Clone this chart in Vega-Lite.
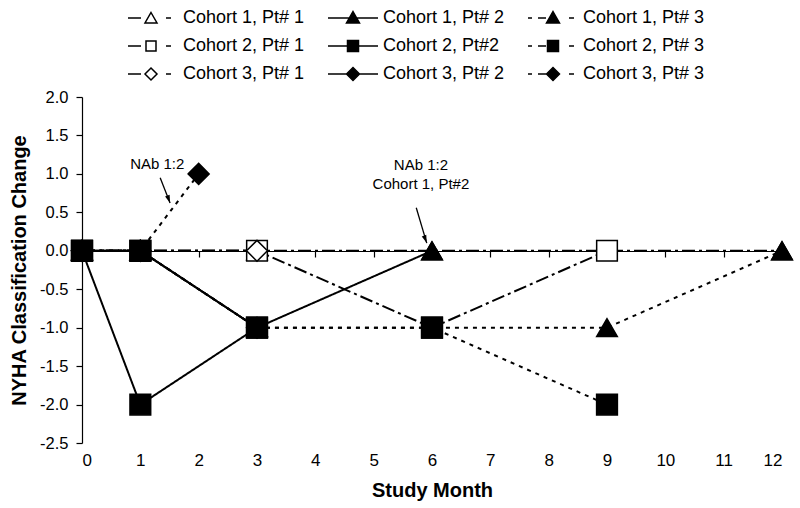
{
  "$schema": "https://vega.github.io/schema/vega-lite/v6.json",
  "width": 700,
  "height": 346,
  "autosize": {"type": "none"},
  "padding": {"left": 82, "top": 97, "right": 18, "bottom": 65},
  "background": "white",
  "config": {
    "view": {"stroke": null},
    "font": "Liberation Sans",
    "axis": {"grid": false, "domainColor": "black", "tickColor": "black", "labelColor": "black", "titleColor": "black", "labelFont": "Liberation Sans", "titleFont": "Liberation Sans", "domainWidth": 1.2, "tickWidth": 1.2}
  },
  "datasets": {
    "obs": [
      {"series": "Cohort 1, Pt# 1", "month": 0, "value": 0},
      {"series": "Cohort 1, Pt# 1", "month": 1, "value": 0},
      {"series": "Cohort 1, Pt# 1", "month": 3, "value": 0},
      {"series": "Cohort 1, Pt# 1", "month": 6, "value": 0},
      {"series": "Cohort 1, Pt# 1", "month": 12, "value": 0},
      {"series": "Cohort 1, Pt# 2", "month": 0, "value": 0},
      {"series": "Cohort 1, Pt# 2", "month": 1, "value": 0},
      {"series": "Cohort 1, Pt# 2", "month": 3, "value": -1},
      {"series": "Cohort 1, Pt# 2", "month": 6, "value": 0},
      {"series": "Cohort 1, Pt# 3", "month": 0, "value": 0},
      {"series": "Cohort 1, Pt# 3", "month": 1, "value": 0},
      {"series": "Cohort 1, Pt# 3", "month": 3, "value": -1},
      {"series": "Cohort 1, Pt# 3", "month": 9, "value": -1},
      {"series": "Cohort 1, Pt# 3", "month": 12, "value": 0},
      {"series": "Cohort 2, Pt# 1", "month": 0, "value": 0},
      {"series": "Cohort 2, Pt# 1", "month": 1, "value": 0},
      {"series": "Cohort 2, Pt# 1", "month": 3, "value": 0},
      {"series": "Cohort 2, Pt# 1", "month": 6, "value": -1},
      {"series": "Cohort 2, Pt# 1", "month": 9, "value": 0},
      {"series": "Cohort 2, Pt#2", "month": 0, "value": 0},
      {"series": "Cohort 2, Pt#2", "month": 1, "value": -2},
      {"series": "Cohort 2, Pt#2", "month": 3, "value": -1},
      {"series": "Cohort 2, Pt# 3", "month": 0, "value": 0},
      {"series": "Cohort 2, Pt# 3", "month": 1, "value": 0},
      {"series": "Cohort 2, Pt# 3", "month": 3, "value": -1},
      {"series": "Cohort 2, Pt# 3", "month": 6, "value": -1},
      {"series": "Cohort 2, Pt# 3", "month": 9, "value": -2},
      {"series": "Cohort 3, Pt# 1", "month": 0, "value": 0},
      {"series": "Cohort 3, Pt# 1", "month": 1, "value": 0},
      {"series": "Cohort 3, Pt# 1", "month": 3, "value": 0},
      {"series": "Cohort 3, Pt# 2", "month": 0, "value": 0},
      {"series": "Cohort 3, Pt# 2", "month": 1, "value": 0},
      {"series": "Cohort 3, Pt# 2", "month": 3, "value": -1},
      {"series": "Cohort 3, Pt# 3", "month": 0, "value": 0},
      {"series": "Cohort 3, Pt# 3", "month": 1, "value": 0},
      {"series": "Cohort 3, Pt# 3", "month": 2, "value": 1}
    ],
    "notes": [
      {"month": 1.29, "value": 1.13, "text": "NAb 1:2"},
      {"month": 5.81, "value": 1.12, "text": "NAb 1:2"},
      {"month": 5.81, "value": 0.87, "text": "Cohort 1, Pt#2"}
    ],
    "arrows": [
      {"month": 1.34, "value": 0.95, "month2": 1.51, "value2": 0.62},
      {"month": 5.73, "value": 0.56, "month2": 5.91, "value2": 0.1}
    ]
  },
  "resolve": {
    "scale": {"shape": "independent", "fill": "independent"},
    "axis": {"x": "independent", "y": "independent"},
    "legend": {"shape": "independent", "fill": "independent"}
  },
  "layer": [
    {
      "data": {"name": "obs"},
      "mark": {"type": "line", "color": "black", "strokeWidth": 2},
      "encoding": {
        "x": {
          "field": "month", "type": "quantitative",
          "scale": {"domain": [0, 12], "nice": false, "zero": false},
          "axis": {
            "values": [0,1,2,3,4,5,6,7,8,9,10,11,12], "domain": false, "ticks": false,
            "labelFontSize": 17, "labelPadding": 9, "title": "Study Month", "titleFontSize": 20, "titleFontWeight": "bold", "titlePadding": 12, "orient": "bottom"
          }
        },
        "y": {
          "field": "value", "type": "quantitative",
          "scale": {"domain": [-2.5, 2], "nice": false, "zero": false},
          "axis": {"values": [-2.5,-2,-1.5,-1,-0.5,0,0.5,1,1.5,2], "labelExpr": "replace(format(datum.value, '.1f'), '\u2212', '-')", "labelFontSize": 16.5, "tickSize": 6, "labelPadding": 8, "title": "NYHA Classification Change", "titleFontSize": 20, "titleFontWeight": "bold", "titlePadding": 10}
        },
        "strokeDash": {
          "field": "series", "type": "nominal", "legend": null,
          "scale": {
            "domain": ["Cohort 1, Pt# 1", "Cohort 1, Pt# 2", "Cohort 1, Pt# 3", "Cohort 2, Pt# 1", "Cohort 2, Pt#2", "Cohort 2, Pt# 3", "Cohort 3, Pt# 1", "Cohort 3, Pt# 2", "Cohort 3, Pt# 3"],
            "range": [[13,4,3,4], [1,0], [4,5], [13,4,3,4], [1,0], [4,5], [13,4,3,4], [1,0], [4,5]]
          }
        }
      }
    },
    {
      "data": {"name": "obs"},
      "mark": {"type": "point", "filled": true, "stroke": "black", "strokeWidth": 1.5, "opacity": 1, "fillOpacity": 1},
      "encoding": {
        "x": {"field": "month", "type": "quantitative", "axis": {"values": [0,1,2,3,4,5,6,7,8,9,10,11,12], "labels": false, "title": null, "domain": true, "ticks": true, "tickSize": 6, "offset": -192, "orient": "bottom", "zindex": 0}},
        "y": {"field": "value", "type": "quantitative", "axis": null},
        "shape": {
          "field": "series", "type": "nominal", "legend": null,
          "scale": {
            "domain": ["Cohort 1, Pt# 1", "Cohort 1, Pt# 2", "Cohort 1, Pt# 3", "Cohort 2, Pt# 1", "Cohort 2, Pt#2", "Cohort 2, Pt# 3", "Cohort 3, Pt# 1", "Cohort 3, Pt# 2", "Cohort 3, Pt# 3"],
            "range": ["triangle-up", "triangle-up", "triangle-up", "square", "square", "square", "diamond", "diamond", "diamond"]
          }
        },
        "fill": {
          "field": "series", "type": "nominal", "legend": null,
          "scale": {
            "domain": ["Cohort 1, Pt# 1", "Cohort 1, Pt# 2", "Cohort 1, Pt# 3", "Cohort 2, Pt# 1", "Cohort 2, Pt#2", "Cohort 2, Pt# 3", "Cohort 3, Pt# 1", "Cohort 3, Pt# 2", "Cohort 3, Pt# 3"],
            "range": ["white", "black", "black", "white", "black", "black", "white", "black", "black"]
          }
        },
        "size": {
          "field": "series", "type": "nominal", "legend": null,
          "scale": {
            "domain": ["Cohort 1, Pt# 1", "Cohort 1, Pt# 2", "Cohort 1, Pt# 3", "Cohort 2, Pt# 1", "Cohort 2, Pt#2", "Cohort 2, Pt# 3", "Cohort 3, Pt# 1", "Cohort 3, Pt# 2", "Cohort 3, Pt# 3"],
            "range": [420, 440, 440, 330, 330, 330, 360, 320, 380]
          }
        }
      }
    },
    {
      "data": {"name": "obs"},
      "mark": {"type": "point", "filled": true, "stroke": "black", "strokeWidth": 1.5, "opacity": 0},
      "encoding": {
        "x": {"field": "month", "type": "quantitative", "axis": null},
        "y": {"field": "value", "type": "quantitative", "axis": null},
        "shape": {
          "field": "series", "type": "nominal",
          "scale": {
            "domain": ["Cohort 1, Pt# 1", "Cohort 1, Pt# 2", "Cohort 1, Pt# 3", "Cohort 2, Pt# 1", "Cohort 2, Pt#2", "Cohort 2, Pt# 3", "Cohort 3, Pt# 1", "Cohort 3, Pt# 2", "Cohort 3, Pt# 3"],
            "range": [
              "M-1,0H0.3M1.3,-0.55L1.9,0.5H0.7ZM2.8,0H3.3",
              "M-1,0H4M1.5,-0.65L2.15,0.5H0.85Z",
              "M-1,0H-0.6M0,0H0.8M1.5,-0.65L2.15,0.5H0.85ZM3.1,0H3.6",
              "M-1,0H0.3M0.8,-0.5H1.8V0.5H0.8ZM2.8,0H3.3",
              "M-1,0H4M0.95,-0.55H2.05V0.55H0.95Z",
              "M-1,0H-0.6M0,0H0.8M0.95,-0.55H2.05V0.55H0.95ZM3.1,0H3.6",
              "M-1,0H0.3M1.3,-0.6L1.9,0L1.3,0.6L0.7,0ZM2.8,0H3.3",
              "M-1,0H4M1.5,-0.65L2.15,0L1.5,0.65L0.85,0Z",
              "M-1,0H-0.6M0,0H0.8M1.5,-0.65L2.15,0L1.5,0.65L0.85,0ZM3.1,0H3.6"
            ]
          },
          "legend": {"title": null, "orient": "none", "legendX": 45, "legendY": -90, "columns": 3, "direction": "horizontal", "symbolSize": 400, "symbolStrokeWidth": 1.5, "symbolStrokeColor": "black", "symbolOpacity": 1, "labelFont": "Liberation Sans", "labelFontSize": 18, "labelColor": "black", "labelOffset": 34, "columnPadding": 20, "rowPadding": 8, "labelLimit": 300, "padding": 0, "encode": {"symbols": {"update": {"stroke": {"value": "black"}, "strokeWidth": {"value": 1.5}, "opacity": {"value": 1}}}}}
        },
        "fill": {
          "field": "series", "type": "nominal",
          "scale": {
            "domain": ["Cohort 1, Pt# 1", "Cohort 1, Pt# 2", "Cohort 1, Pt# 3", "Cohort 2, Pt# 1", "Cohort 2, Pt#2", "Cohort 2, Pt# 3", "Cohort 3, Pt# 1", "Cohort 3, Pt# 2", "Cohort 3, Pt# 3"],
            "range": ["white", "black", "black", "white", "black", "black", "white", "black", "black"]
          },
          "legend": {"title": null, "orient": "none", "legendX": 45, "legendY": -90, "columns": 3, "direction": "horizontal", "symbolSize": 400, "symbolStrokeWidth": 1.5, "symbolStrokeColor": "black", "symbolOpacity": 1, "labelFont": "Liberation Sans", "labelFontSize": 18, "labelColor": "black", "labelOffset": 34, "columnPadding": 20, "rowPadding": 8, "labelLimit": 300, "padding": 0, "encode": {"symbols": {"update": {"stroke": {"value": "black"}, "strokeWidth": {"value": 1.5}, "opacity": {"value": 1}}}}}
        }
      }
    },
    {
      "data": {"name": "arrows"},
      "mark": {"type": "rule", "color": "black", "strokeWidth": 1.3},
      "encoding": {
        "x": {"field": "month", "type": "quantitative", "axis": null},
        "y": {"field": "value", "type": "quantitative", "axis": null},
        "x2": {"field": "month2"},
        "y2": {"field": "value2"}
      }
    },
    {
      "data": {"name": "arrows"},
      "mark": {"type": "point", "shape": "M0,0L-0.6,-2L0.6,-2Z", "filled": true, "color": "black", "size": 64, "angle": -20, "opacity": 1},
      "encoding": {
        "x": {"field": "month2", "type": "quantitative", "axis": null},
        "y": {"field": "value2", "type": "quantitative", "axis": null}
      }
    },
    {
      "data": {"name": "notes"},
      "mark": {"type": "text", "font": "Liberation Sans", "fontSize": 15, "color": "black", "align": "center", "baseline": "middle"},
      "encoding": {
        "x": {"field": "month", "type": "quantitative", "axis": null},
        "y": {"field": "value", "type": "quantitative", "axis": null},
        "text": {"field": "text"}
      }
    }
  ]
}
